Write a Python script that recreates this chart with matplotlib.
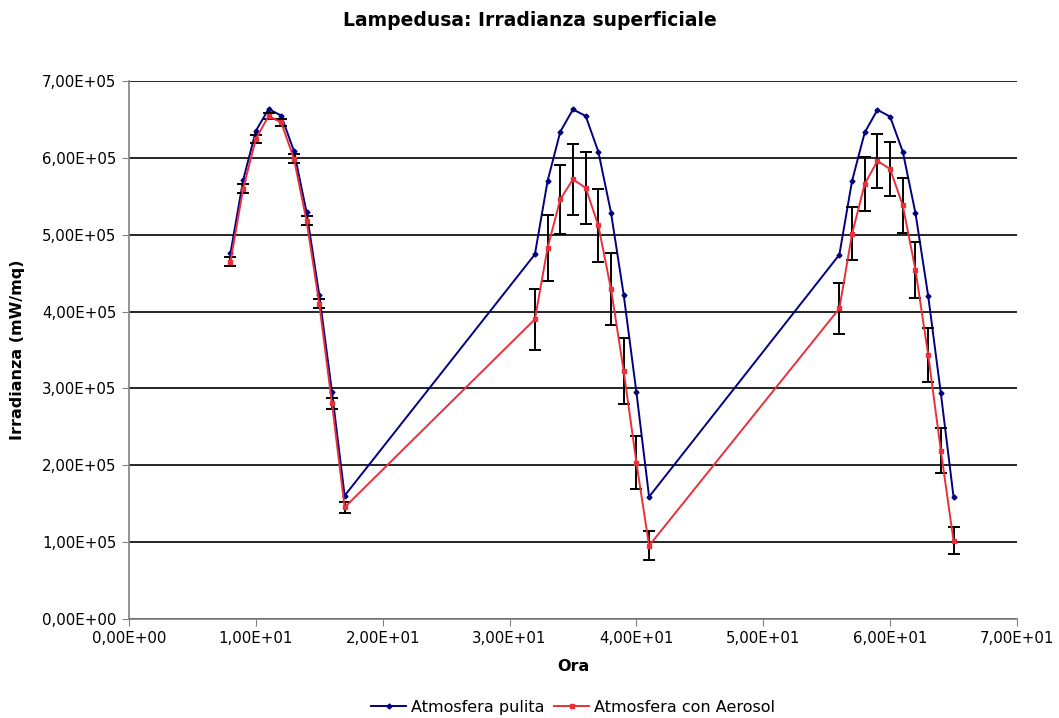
import numpy as np
import matplotlib
matplotlib.use("Agg")
import matplotlib.pyplot as plt
from matplotlib.ticker import FuncFormatter, MultipleLocator

# hours
ore = [8, 9, 10, 11, 12, 13, 14, 15, 16, 17,
       32, 33, 34, 35, 36, 37, 38, 39, 40, 41,
       56, 57, 58, 59, 60, 61, 62, 63, 64, 65]

# clean atmosphere irradiance (mW/mq)
pulita = [476000, 571000, 635000, 663500, 655000, 609000, 529000, 421500, 295700, 160400,
          474500, 570000, 634000, 663000, 654500, 608000, 528600, 421600, 295000, 159000,
          474000, 570000, 633000, 662500, 653600, 608000, 528000, 420600, 293700, 159000]

# atmosphere with aerosol
aerosol = [465000, 560000, 624500, 654500, 646000, 599000, 518000, 410000, 280600, 145300,
           390000, 483000, 546000, 572000, 561000, 512000, 429000, 322700, 203500, 95400,
           404000, 501000, 566000, 596000, 585500, 538000, 454000, 344000, 219000, 102000]

# error bars on aerosol series
errore = [6000, 5500, 5500, 4500, 5000, 5500, 6000, 6000, 7000, 7000,
          40000, 43000, 44600, 46600, 47000, 47500, 47000, 43000, 34000, 18500,
          33000, 34500, 35000, 35000, 35000, 36000, 36000, 35000, 29500, 17400]

plt.rcParams['font.family'] = ['DejaVu Sans']

fig = plt.figure(figsize=(10.59, 7.18), dpi=100)
ax = fig.add_axes([0.1218, 0.1379, 0.8385, 0.7493])

ax.plot(ore, pulita, color='#000080', marker='D', markersize=2.5, linewidth=1.4,
        label='Atmosfera pulita', zorder=3)
ax.errorbar(ore, aerosol, yerr=errore, fmt='none', ecolor='black', elinewidth=1.4,
            capsize=4.3, capthick=1.4, zorder=4)
ax.plot(ore, aerosol, color='#e8303a', marker='s', markersize=3, linewidth=1.4,
        label='Atmosfera con Aerosol', zorder=5)

ax.set_xlim(0, 70)
ax.set_ylim(0, 700000)
ax.xaxis.set_major_locator(MultipleLocator(10))
ax.yaxis.set_major_locator(MultipleLocator(100000))

def sci_it(v, pos):
    s = "%.2E" % v
    return s.replace('.', ',')

ax.xaxis.set_major_formatter(FuncFormatter(sci_it))
ax.yaxis.set_major_formatter(FuncFormatter(sci_it))

ax.grid(True, axis='y', color='black', linewidth=1.2)
ax.set_axisbelow(True)
for s in ['top', 'right']:
    ax.spines[s].set_visible(False)
for s in ['left', 'bottom']:
    ax.spines[s].set_color('#808080')
    ax.spines[s].set_linewidth(1.2)
ax.tick_params(axis='both', direction='out', length=5, color='#808080',
               labelsize=10.8, pad=4)

fig.text(0.5, 0.972, 'Lampedusa: Irradianza superficiale', fontsize=13.5,
         fontweight='bold', ha='center', va='center')
ax.set_xlabel('Ora', fontsize=11.5, fontweight='bold', labelpad=9)
ax.set_ylabel('Irradianza (mW/mq)', fontsize=11.5, fontweight='bold', labelpad=12)

ax.legend(loc='center', bbox_to_anchor=(0.5, -0.164), ncol=2, frameon=False,
          fontsize=11.5, handlelength=2.2, columnspacing=0.6, handletextpad=0.3,
          borderpad=0.1)

fig.savefig('out.png', dpi=100)
